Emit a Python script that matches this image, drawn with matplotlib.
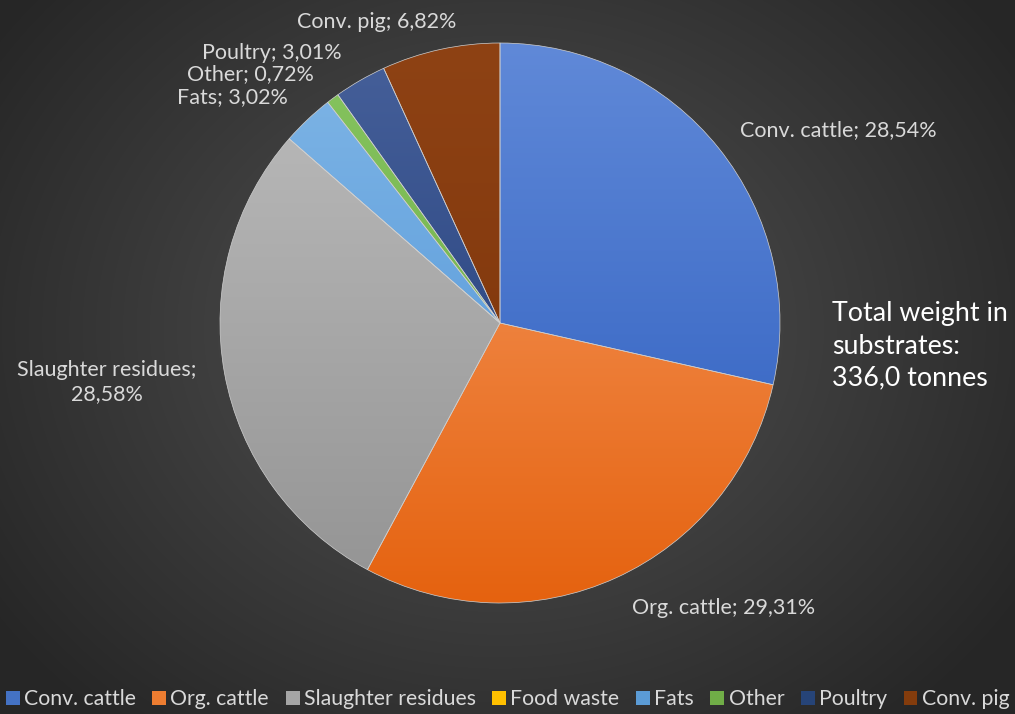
import numpy as np
import matplotlib.pyplot as plt
from matplotlib.colors import to_rgb
from matplotlib.patches import Patch

plt.rcParams['font.family'] = ['Lato', 'DejaVu Sans']

# substrate shares (%) of the total weight
categories = ['Conv. cattle', 'Org. cattle', 'Slaughter residues', 'Food waste',
              'Fats', 'Other', 'Poultry', 'Conv. pig']
shares = [28.54, 29.31, 28.58, 0.0, 3.02, 0.72, 3.01, 6.82]
total_tonnes = 336.0

# light (top of pie) and dark (bottom of pie) shades for each slice
top_colors = ['#6089d8', '#f7a06a', '#bdbdbd', '#ffd24d', '#80b6e6', '#86c45f', '#46609a', '#8e4214']
bottom_colors = ['#2a5bbd', '#e5620f', '#939393', '#f0b400', '#4a90d6', '#6aaa44', '#1d3874', '#7a3209']
legend_colors = ['#4472c4', '#ed7d31', '#a5a5a5', '#ffc000', '#5b9bd5', '#70ad47', '#264478', '#843c0c']

# label anchor (x, y, ha) in pixel space, for slices that get a label
label_pos = {
    'Conv. cattle': (740, 130, 'left'),
    'Org. cattle': (632, 608, 'left'),
    'Slaughter residues': (107, 382, 'center'),
    'Fats': (288, 97, 'right'),
    'Other': (314, 74, 'right'),
    'Poultry': (342, 53, 'right'),
    'Conv. pig': (456, 22, 'right'),
}

W, H = 1015, 714
fig = plt.figure(figsize=(W / 100, H / 100), dpi=100)
ax = fig.add_axes([0, 0, 1, 1])

# dark radial background
yy, xx = np.mgrid[0:H, 0:W]
d = np.hypot((xx - 500) / 620, (yy - (H - 330)) / 520)
d = np.clip(d, 0, 1)
c_in, c_out = np.array(to_rgb('#545454')), np.array(to_rgb('#262626'))
bg = c_in[None, None, :] * (1 - d[..., None]) + c_out[None, None, :] * d[..., None]
ax.imshow(bg, extent=[0, W, 0, H], origin='lower', zorder=0)

cx, cy, R = 500, H - 323, 280
wedges, _ = ax.pie(shares, startangle=90, counterclock=False, center=(cx, cy), radius=R,
                   wedgeprops=dict(facecolor='none', edgecolor='#d0d0d0', linewidth=0.5, zorder=3))

# vertical gradient fill clipped to each wedge
t = np.linspace(0, 1, 256)[:, None, None]
for w, c1, c2 in zip(wedges, top_colors, bottom_colors):
    a, b = np.array(to_rgb(c1)), np.array(to_rgb(c2))
    grad = np.repeat(b * (1 - t) + a * t, 2, axis=1)
    im = ax.imshow(grad, extent=[cx - R, cx + R, cy - R, cy + R], origin='lower', zorder=2)
    im.set_clip_path(w)

txt_color = '#d9d9d9'
for name, val in zip(categories, shares):
    if val <= 0:
        continue
    x, y, ha = label_pos[name]
    sval = f'{val:.2f}'.replace('.', ',') + '%'
    s = f'{name};\n{sval}' if name == 'Slaughter residues' else f'{name}; {sval}'
    ax.text(x, H - y, s, ha=ha, va='center', color=txt_color, fontsize=15.5,
            linespacing=1.3, zorder=5)

total_str = f'{total_tonnes:.1f}'.replace('.', ',')
ax.text(832, H - 346, f'Total weight in\nsubstrates:\n{total_str} tonnes', ha='left', va='center',
        color='white', fontsize=19.3, linespacing=1.36, zorder=5)

ax.set_xlim(0, W)
ax.set_ylim(0, H)
ax.axis('off')

handles = [Patch(facecolor=c, edgecolor='none') for c in legend_colors]
fig.legend(handles, categories, loc='lower center', bbox_to_anchor=(0.5, -0.02), ncol=8,
           frameon=False, handlelength=0.65, handleheight=0.65, handletextpad=0.2,
           columnspacing=0.78, labelcolor=txt_color, fontsize=15.3)

fig.savefig('out.png', dpi=100, facecolor='#2b2b2b')
